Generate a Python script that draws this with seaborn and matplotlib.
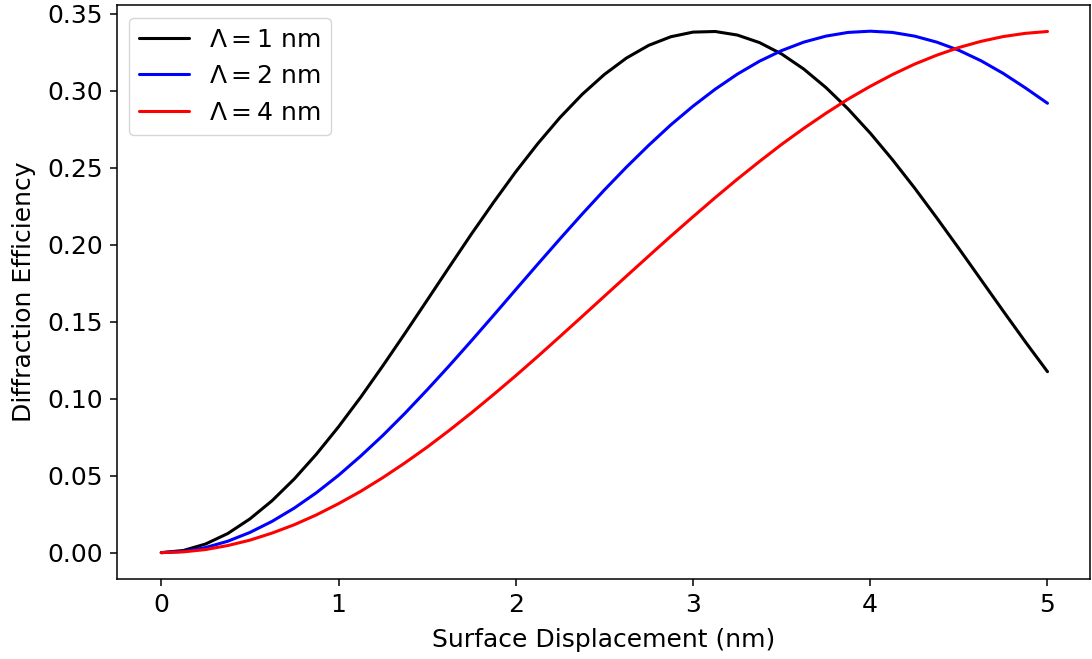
import matplotlib
matplotlib.use("Agg")
import matplotlib.pyplot as plt
import seaborn as sns
import pandas as pd

# Surface displacement (nm), step 0.125
displacement = [0.0, 0.125, 0.25, 0.375, 0.5, 0.625, 0.75, 0.875, 1.0, 1.125, 1.25,
                1.375, 1.5, 1.625, 1.75, 1.875, 2.0, 2.125, 2.25, 2.375, 2.5,
                2.625, 2.75, 2.875, 3.0, 3.125, 3.25, 3.375, 3.5, 3.625, 3.75,
                3.875, 4.0, 4.125, 4.25, 4.375, 4.5, 4.625, 4.75, 4.875, 5.0]

# Diffraction efficiency
eff_1nm = [0.0, 0.0014, 0.0056, 0.0124, 0.0219, 0.0337, 0.0478, 0.0639, 0.0817, 0.1009, 0.1213,
           0.1424, 0.1639, 0.1855, 0.2069, 0.2275, 0.2473, 0.2657, 0.2826, 0.2976, 0.3105,
           0.3212, 0.3294, 0.3350, 0.3380, 0.3384, 0.3361, 0.3312, 0.3238, 0.3140, 0.3020,
           0.2881, 0.2724, 0.2552, 0.2368, 0.2174, 0.1975, 0.1772, 0.1569, 0.1369, 0.1175]
eff_2nm = [0.0, 0.0008, 0.0033, 0.0074, 0.0131, 0.0203, 0.0289, 0.0389, 0.0502, 0.0627, 0.0761,
           0.0905, 0.1057, 0.1214, 0.1376, 0.1541, 0.1708, 0.1874, 0.2038, 0.2199, 0.2355,
           0.2504, 0.2645, 0.2778, 0.2899, 0.3009, 0.3107, 0.3191, 0.3260, 0.3315, 0.3354,
           0.3378, 0.3386, 0.3378, 0.3354, 0.3315, 0.3262, 0.3194, 0.3112, 0.3018, 0.2918]
eff_4nm = [0.0, 0.0005, 0.0020, 0.0046, 0.0081, 0.0127, 0.0181, 0.0245, 0.0318, 0.0398, 0.0487,
           0.0583, 0.0685, 0.0794, 0.0908, 0.1027, 0.1149, 0.1275, 0.1404, 0.1534, 0.1665,
           0.1796, 0.1926, 0.2055, 0.2181, 0.2305, 0.2425, 0.2540, 0.2651, 0.2755, 0.2853,
           0.2945, 0.3028, 0.3104, 0.3172, 0.3230, 0.3280, 0.3320, 0.3351, 0.3372, 0.3384]

series_labels = [r"$\Lambda = 1$ nm", r"$\Lambda = 2$ nm", r"$\Lambda = 4$ nm"]
series_colors = ["black", "blue", "red"]

rows = []
for lab, vals in zip(series_labels, [eff_1nm, eff_2nm, eff_4nm]):
    for x, y in zip(displacement, vals):
        rows.append({"x": x, "y": y, "series": lab})
df = pd.DataFrame(rows)

sns.set_style("ticks")
plt.rcParams["font.family"] = ["DejaVu Sans"]
plt.rcParams["axes.edgecolor"] = "black"
plt.rcParams["axes.labelcolor"] = "black"
plt.rcParams["text.color"] = "black"
plt.rcParams["xtick.color"] = "black"
plt.rcParams["ytick.color"] = "black"

fig = plt.figure(figsize=(10.92, 6.59), dpi=100)
ax = fig.add_axes([0.1071, 0.1219, 0.8911, 0.8705])

sns.lineplot(data=df, x="x", y="y", hue="series", hue_order=series_labels,
             palette=dict(zip(series_labels, series_colors)), linewidth=2.2, ax=ax)

for s in ax.spines.values():
    s.set_visible(True)
    s.set_linewidth(1.1)
    s.set_color("black")

ax.set_xlim(-0.25, 5.24)
ax.set_ylim(-0.0169, 0.3556)
ax.set_xticks([0, 1, 2, 3, 4, 5])
ax.set_yticks([0.0, 0.05, 0.10, 0.15, 0.20, 0.25, 0.30, 0.35])
ax.set_yticklabels(["0.00", "0.05", "0.10", "0.15", "0.20", "0.25", "0.30", "0.35"])
ax.tick_params(labelsize=18, length=5, width=1.1, direction="out", pad=5)
ax.set_xlabel("Surface Displacement (nm)", fontsize=18, labelpad=8)
ax.set_ylabel("Diffraction Efficiency", fontsize=18, labelpad=8)

leg = ax.legend(loc="upper left", fontsize=18, frameon=True, handlelength=2.0,
                borderaxespad=0.5)
leg.get_frame().set_edgecolor("#cccccc")
leg.get_frame().set_linewidth(1.0)

fig.savefig("out.png", dpi=100)
